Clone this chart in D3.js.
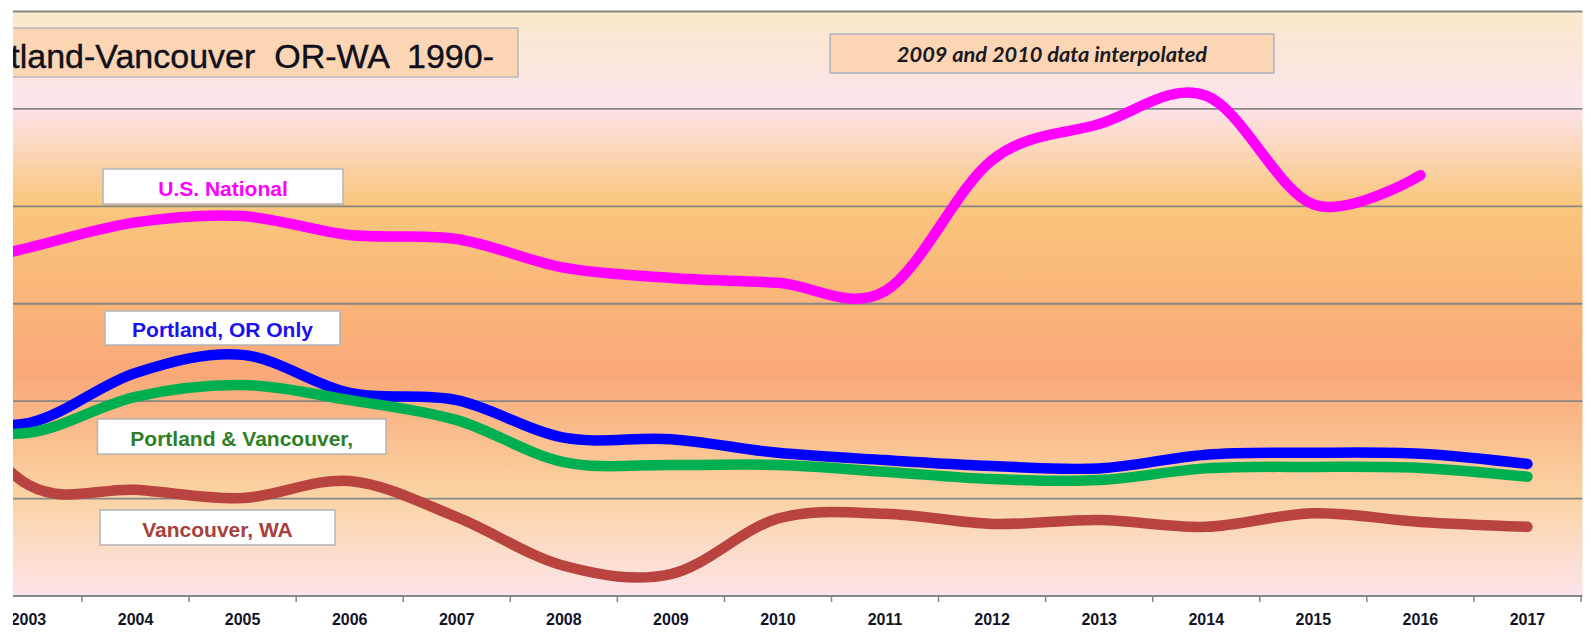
<!DOCTYPE html>
<html lang="en">
	<head>
		<meta charset="utf-8">
		<title>Portland-Vancouver OR-WA 1990-</title>
		<script src="https://d3js.org/d3.v7.min.js"></script>
		<style type="text/css">
			body {
				margin: 0;
				background: #fff;
			}
			svg {
				display: block;
				font-family: "Liberation Sans", Arial, sans-serif;
			}
			.grid line {
				stroke: #868686;
				stroke-width: 1.9px;
			}
			.series {
				fill: none;
				stroke-width: 10.5px;
				stroke-linecap: round;
				stroke-linejoin: round;
			}
			.tag rect {
				fill: #fff;
				stroke: #b4b4b4;
				stroke-width: 1.5px;
			}
			.tag text {
				font-size: 21px;
				font-weight: bold;
				text-anchor: middle;
			}
		</style>
	</head>
	<body>
		<script type="text/javascript">

			//Width and height
			var w = 1591;
			var h = 643;

			//Categories (the picture is cropped, 2002 sits just off the left edge)
			var years = [2002, 2003, 2004, 2005, 2006, 2007, 2008, 2009, 2010, 2011, 2012, 2013, 2014, 2015, 2016, 2017];

			//Series values
			var usNational        = [6.61, 7.15, 7.67, 7.80, 7.41, 7.33, 6.74, 6.53, 6.43, 6.26, 8.95, 9.69, 10.27, 8.04, 8.64, null];
			var portlandOR        = [3.66, 3.55, 4.58, 4.95, 4.17, 4.02, 3.25, 3.22, 2.94, 2.79, 2.67, 2.62, 2.90, 2.94, 2.92, 2.71];
			var portlandVancouver = [3.51, 3.35, 4.09, 4.33, 4.02, 3.61, 2.75, 2.69, 2.69, 2.55, 2.40, 2.38, 2.62, 2.65, 2.63, 2.45];
			var vancouverWA       = [4.60, 2.28, 2.18, 2.01, 2.36, 1.62, 0.62, 0.45, 1.59, 1.69, 1.48, 1.56, 1.42, 1.70, 1.52, 1.42];

			//Gridline values (their labels are cropped away)
			var yTicks = [0, 2, 4, 6, 8, 10, 12];

			var seriesNames = ["U.S. National", "Portland, OR Only", "Portland & Vancouver,", "Vancouver, WA"];
			var seriesValues = [usNational, portlandOR, portlandVancouver, vancouverWA];
			var seriesColors = ["#ff00ff", "#0000ff", "#00b050", "#b8433f"];
			var tagColors = ["#ff00ff", "#1a10f0", "#2e7f26", "#a8403c"];

			//Plot area (left part lies outside the crop)
			var plot = { left: -132.14, right: 1581, top: 11.5, bottom: 596 };
			var cropLeft = 13;

			var x = d3.scaleBand()
						.domain(years)
						.range([plot.left, plot.right]);

			var y = d3.scaleLinear()
						.domain([0, 12])
						.range([plot.bottom, plot.top]);

			var svg = d3.select("body")
						.append("svg")
						.attr("width", w)
						.attr("height", h);

			var defs = svg.append("defs");

			defs.append("clipPath")
				.attr("id", "crop")
				.append("rect")
				.attr("x", cropLeft)
				.attr("y", 0)
				.attr("width", w - cropLeft)
				.attr("height", h);

			var grad = defs.append("linearGradient")
						.attr("id", "bg")
						.attr("x1", 0).attr("y1", 0)
						.attr("x2", 0).attr("y2", 1);

			[[0, "#fbe9ca"], [0.16, "#fde4ec"], [0.33, "#f9c67c"], [0.62, "#f9a878"], [0.83, "#fad3a3"], [1, "#fde4ea"]]
				.forEach(function(s) {
					grad.append("stop").attr("offset", s[0]).attr("stop-color", s[1]);
				});

			var g = svg.append("g")
						.attr("clip-path", "url(#crop)");

			//Plot background
			g.append("rect")
				.attr("x", cropLeft)
				.attr("y", plot.top)
				.attr("width", plot.right + 1.5 - cropLeft)
				.attr("height", plot.bottom - plot.top)
				.attr("fill", "url(#bg)");

			//Gridlines
			g.append("g")
				.attr("class", "grid")
				.selectAll("line")
				.data(yTicks)
				.enter()
				.append("line")
				.attr("x1", cropLeft)
				.attr("x2", plot.right + 1.5)
				.attr("y1", function(d) { return y(d); })
				.attr("y2", function(d) { return y(d); });

			//Category axis: ticks between categories, labels centred
			var axis = g.append("g");

			axis.selectAll("line.tick")
				.data(years.concat(["end"]))
				.enter()
				.append("line")
				.attr("class", "tick")
				.attr("x1", function(d) { return d === "end" ? plot.right : x(d); })
				.attr("x2", function(d) { return d === "end" ? plot.right : x(d); })
				.attr("y1", plot.bottom)
				.attr("y2", plot.bottom + 6)
				.attr("stroke", "#868686")
				.attr("stroke-width", 1.5);

			axis.selectAll("text")
				.data(years)
				.enter()
				.append("text")
				.attr("x", function(d) { return x(d) + x.bandwidth() / 2; })
				.attr("y", 625)
				.attr("text-anchor", "middle")
				.attr("font-size", "16px")
				.attr("font-weight", "bold")
				.attr("fill", "#141428")
				.text(function(d) { return d; });

			//Series lines
			var line = d3.line()
						.defined(function(d) { return d != null; })
						.x(function(d, i) { return x(years[i]) + x.bandwidth() / 2; })
						.y(function(d) { return y(d); })
						.curve(d3.curveCatmullRom.alpha(0));

			g.selectAll("path.series")
				.data(seriesValues)
				.enter()
				.append("path")
				.attr("class", "series")
				.attr("stroke", function(d, i) { return seriesColors[i]; })
				.attr("d", line);

			//Series tags
			var tagBoxes = [
				[103, 169, 240, 35],
				[105, 311, 235, 34],
				[97.5, 419, 288.5, 35],
				[100, 510, 235, 35]
			];

			var tags = g.selectAll("g.tag")
						.data(seriesNames)
						.enter()
						.append("g")
						.attr("class", "tag");

			tags.append("rect")
				.attr("x", function(d, i) { return tagBoxes[i][0]; })
				.attr("y", function(d, i) { return tagBoxes[i][1]; })
				.attr("width", function(d, i) { return tagBoxes[i][2]; })
				.attr("height", function(d, i) { return tagBoxes[i][3]; });

			tags.append("text")
				.attr("x", function(d, i) { return tagBoxes[i][0] + tagBoxes[i][2] / 2; })
				.attr("y", function(d, i) { return tagBoxes[i][1] + tagBoxes[i][3] / 2 + 9; })
				.attr("fill", function(d, i) { return tagColors[i]; })
				.text(function(d) { return d; });

			//Title box
			g.append("rect")
				.attr("x", -20)
				.attr("y", 28)
				.attr("width", 538)
				.attr("height", 49)
				.attr("fill", "#fcd5b4")
				.attr("stroke", "#b9b9b9")
				.attr("stroke-width", 1.5);

			g.append("text")
				.attr("x", 494)
				.attr("y", 68)
				.attr("text-anchor", "end")
				.attr("font-size", "34px")
				.attr("fill", "#10101c")
				.attr("stroke", "#10101c")
				.attr("stroke-width", 0.4)
				.attr("xml:space", "preserve")
				.style("white-space", "pre")
				.text("Portland-Vancouver  OR-WA  1990-");

			//Note box
			g.append("rect")
				.attr("x", 830)
				.attr("y", 34)
				.attr("width", 444)
				.attr("height", 39)
				.attr("fill", "#fcd5b4")
				.attr("stroke", "#a9b3bf")
				.attr("stroke-width", 1.5);

			g.append("text")
				.attr("x", 1052)
				.attr("y", 62)
				.attr("text-anchor", "middle")
				.attr("font-family", "Lato, 'Open Sans', sans-serif")
				.attr("font-size", "21.8px")
				.attr("font-style", "italic")
				.attr("font-weight", "bold")
				.attr("fill", "#1a1a24")
				.text("2009 and 2010 data interpolated");

		</script>
	</body>
</html>
